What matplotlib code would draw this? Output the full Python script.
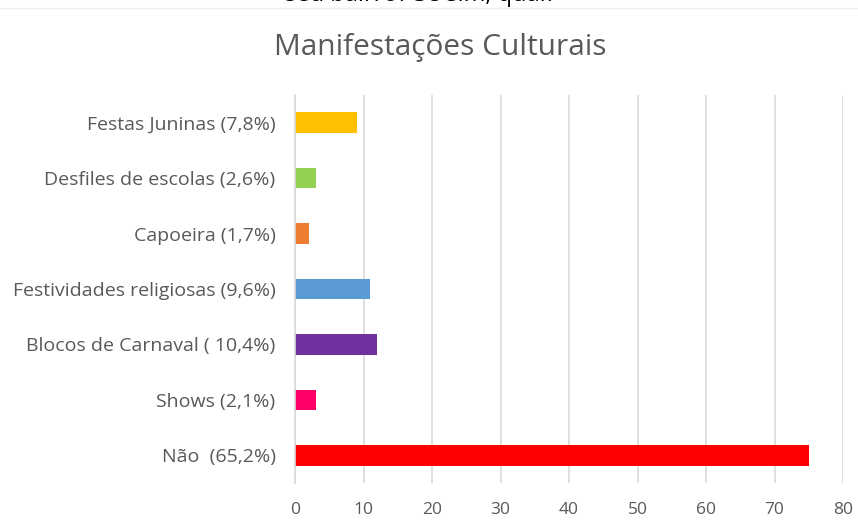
import matplotlib
matplotlib.use("Agg")
import matplotlib.pyplot as plt

# Survey answers (bottom to top) and number of responses
categories = [
    "Não  (65,2%)",
    "Shows (2,1%)",
    "Blocos de Carnaval ( 10,4%)",
    "Festividades religiosas (9,6%)",
    "Capoeira (1,7%)",
    "Desfiles de escolas (2,6%)",
    "Festas Juninas (7,8%)",
]
values = [75, 3, 12, 11, 2, 3, 9]
colors = ["#FF0000", "#FF0066", "#7030A0", "#5B9BD5", "#ED7D31", "#92D050", "#FFC000"]
x_ticks = [0, 10, 20, 30, 40, 50, 60, 70, 80]

plt.rcParams["font.family"] = ["Open Sans", "DejaVu Sans"]
text_color = "#595959"
grid_color = "#D9D9D9"

fig = plt.figure(figsize=(8.58, 5.21), dpi=100)
ax = fig.add_axes([295 / 858, 1 - 483 / 521, (843 - 295) / 858, (483 - 95) / 521])

ypos = list(range(len(categories)))
ax.barh(ypos, values, height=0.37, color=colors, zorder=3)

ax.set_xlim(0, 80)
ax.set_ylim(-0.5, len(categories) - 0.5)
ax.set_xticks(x_ticks)
ax.set_xticklabels([str(t) for t in x_ticks], fontsize=12.5, color=text_color)
ax.set_yticks(ypos)
ax.set_yticklabels(categories, fontsize=14, color=text_color)
ax.tick_params(axis="both", length=0)
ax.tick_params(axis="x", pad=14)
ax.tick_params(axis="y", pad=14)

ax.grid(axis="x", color=grid_color, linewidth=1.2, zorder=0)
for side in ["top", "right", "bottom"]:
    ax.spines[side].set_visible(False)
ax.spines["left"].set_color(grid_color)
ax.spines["left"].set_linewidth(1.2)
ax.spines["left"].set_zorder(4)

fig.text(440 / 858, 1 - 47 / 521, "Manifestações Culturais", ha="center", va="center",
         fontsize=21.5, color=text_color)

# Tail of the survey question above the chart
fig.text(420 / 858, 1 + 5 / 521, "seu bairro? Se sim, qual?", ha="center", va="center",
         fontsize=17, color="black")
fig.add_artist(plt.Line2D([0, 1], [1 - 8 / 521, 1 - 8 / 521], color="#EEEEEE", linewidth=1))

fig.savefig("out.png", dpi=100)
